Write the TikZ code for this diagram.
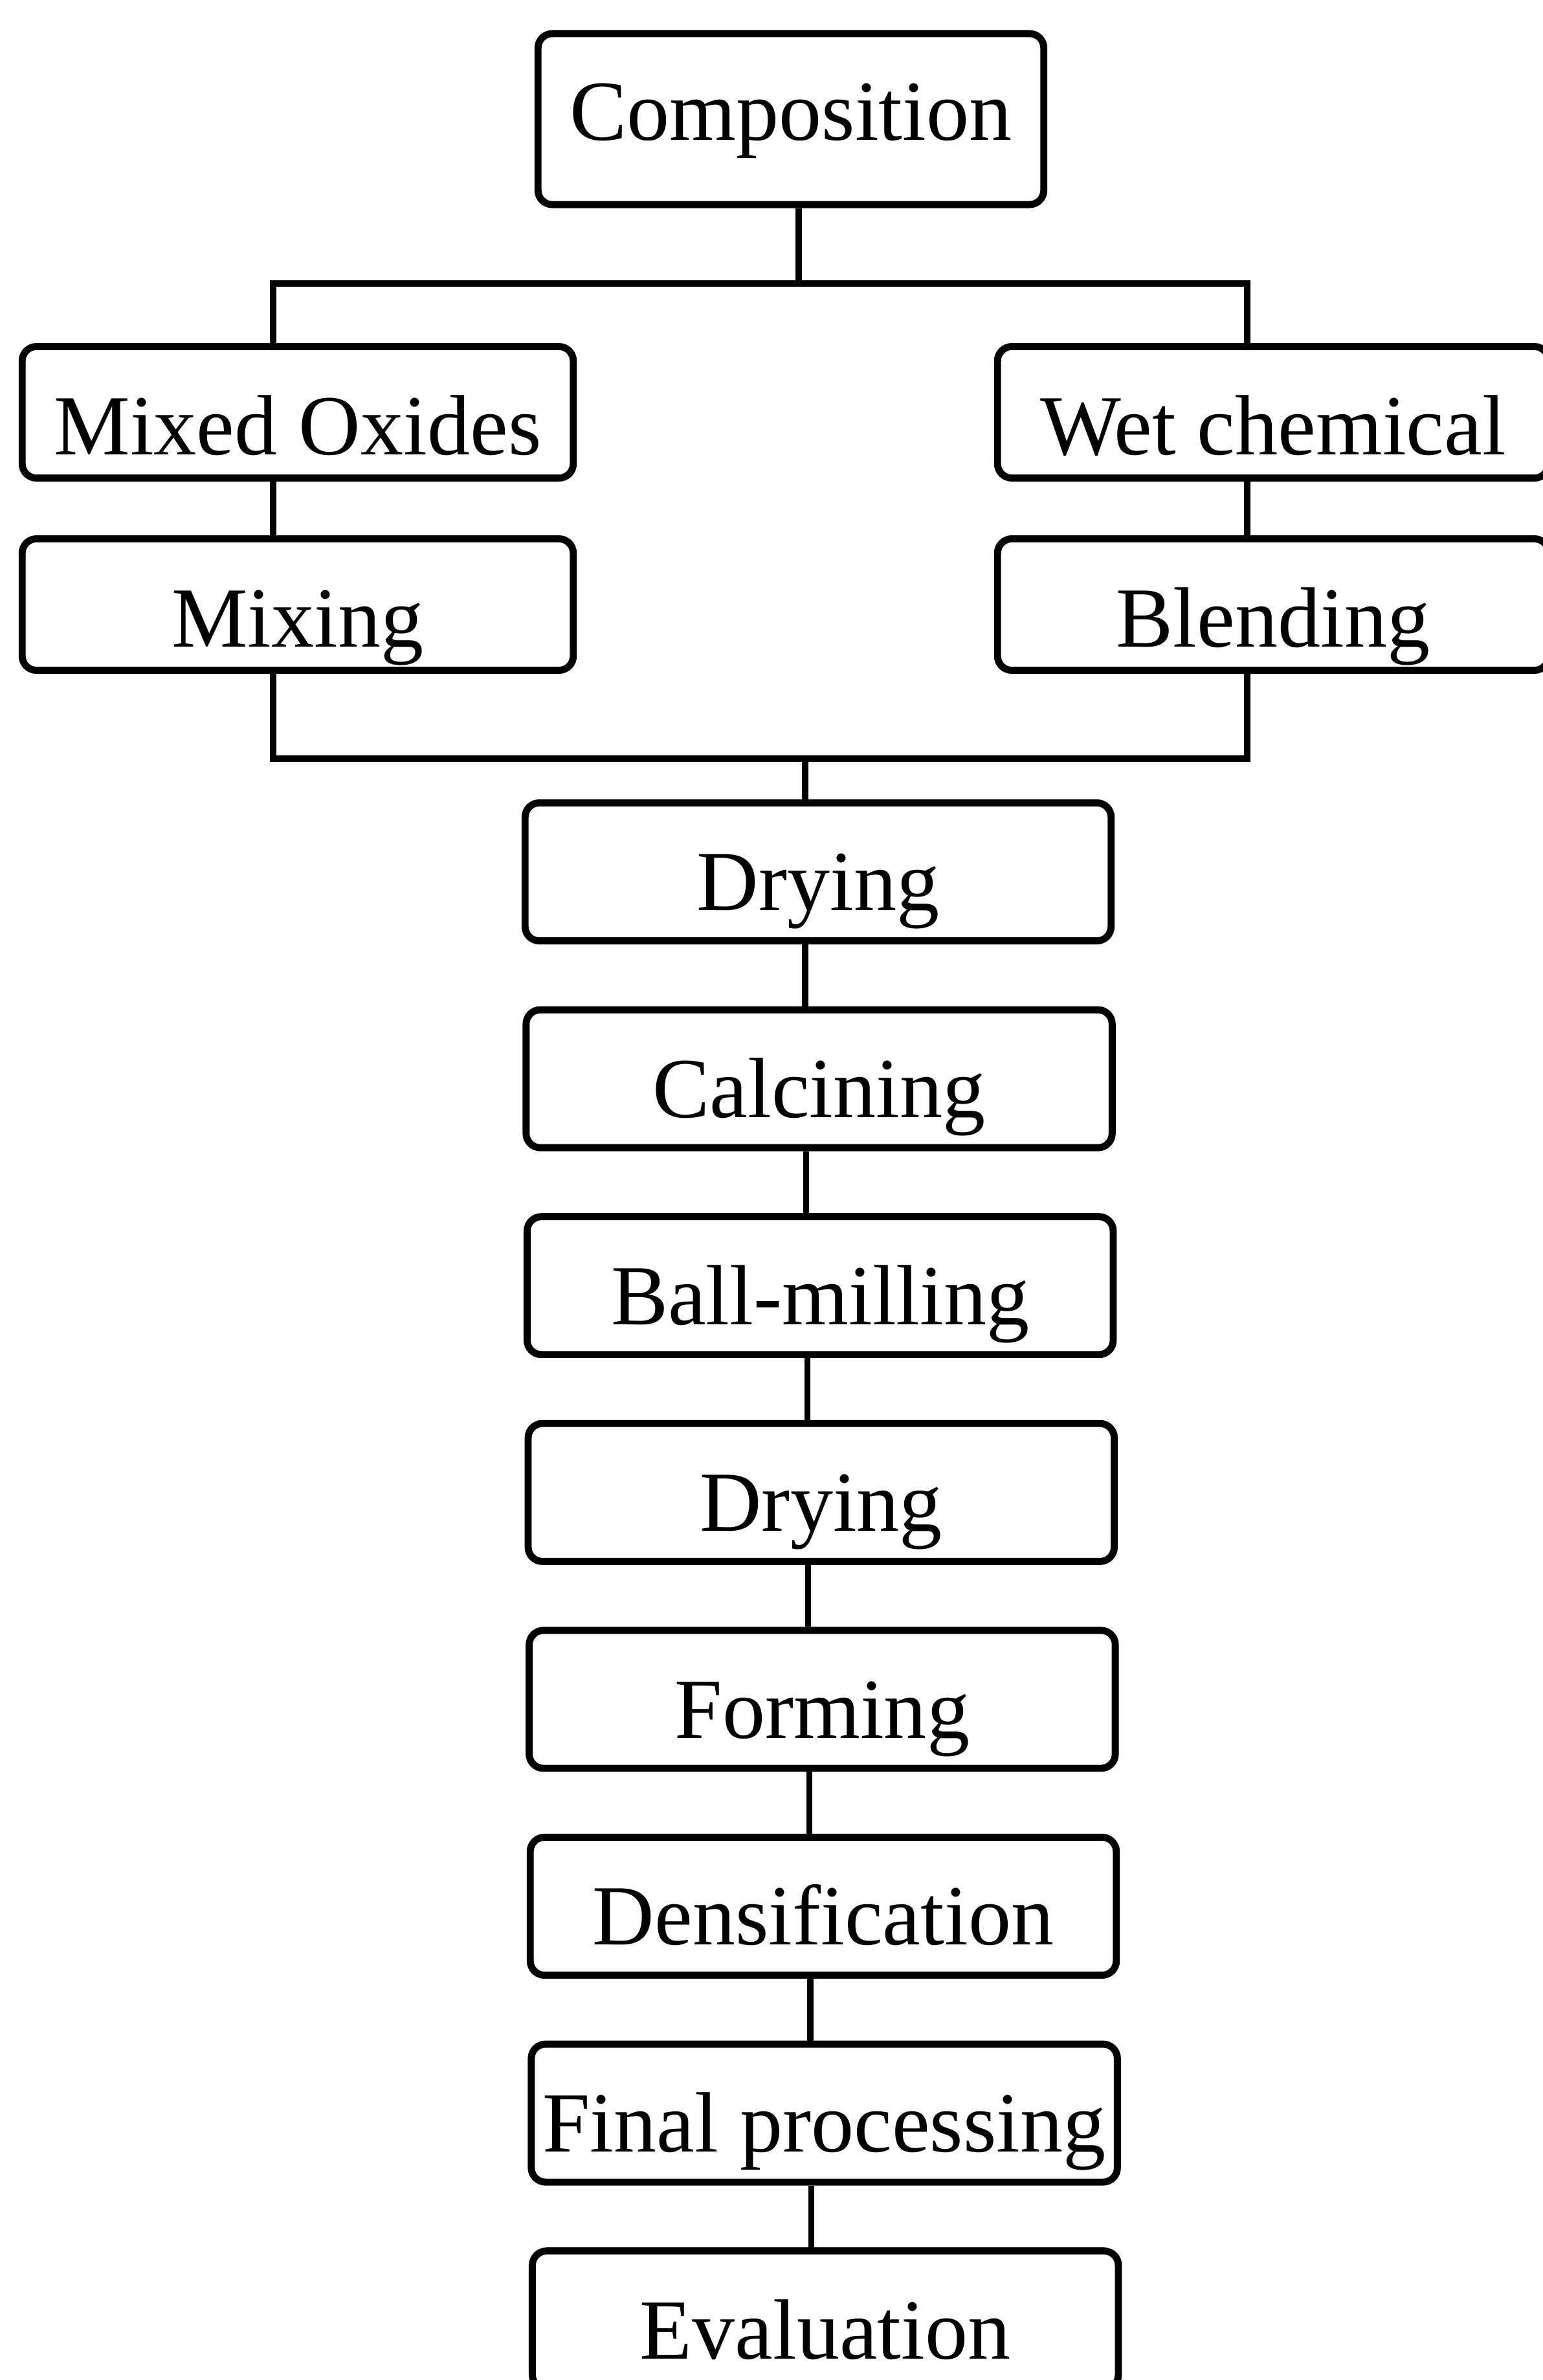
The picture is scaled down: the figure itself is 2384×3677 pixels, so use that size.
\documentclass[tikz,border=0pt]{standalone}
\usepackage{fontspec}
\setmainfont{Liberation Serif}
\usetikzlibrary{calc}

\tikzset{
  stepbox/.style={draw, line width=3.1pt, rounded corners=0.22cm, minimum width=9.05cm,
    minimum height=2.13cm, inner sep=0pt, text height=42pt, text depth=8pt,
    font=\fontsize{37.6}{45}\selectfont},
  routebox/.style={stepbox, minimum width=8.51cm, minimum height=2.03cm, text height=45pt},
  link/.style={line width=2.6pt}
}

\begin{document}
\begin{tikzpicture}[x=0.01cm, y=-0.01cm]
\useasboundingbox (0,0) rectangle (2384,3677);

\node[stepbox, minimum width=7.81cm, minimum height=2.64cm, text height=26.5pt] (comp) at (1222,184) {Composition};

%Routes
\node[routebox] (mixox)  at (460,637)  {Mixed Oxides};
\node[routebox] (wetch)  at (1967,637) {Wet chemical};
\node[routebox] (mixing) at (460,934)  {Mixing};
\node[routebox] (blend)  at (1967,934) {Blending};

\path (1234,438) coordinate (tm);
\path (422,438) coordinate (tl);
\path (1927,438) coordinate (tr);
\path (422,1172) coordinate (bl);
\path (1927,1172) coordinate (br);
\path (1244,1172) coordinate (bm);

%Split and join
\draw[link] (comp.south -| tm) -- (tm);
\draw[link] (mixox.north -| tl) -- (tl) -- (tr) -- (wetch.north -| tr);
\draw[link] (mixox.south -| tl) -- (mixing.north -| tl);
\draw[link] (wetch.south -| tr) -- (blend.north -| tr);
\draw[link] (mixing.south -| bl) -- (bl) -- (br) -- (blend.south -| br);

%Processing steps
\foreach \name/\txt [count=\i] in {dry1/Drying, calc/Calcining, ball/Ball-milling,
    dry2/Drying, form/Forming, dens/Densification, final/Final processing, eval/Evaluation}
  \node[stepbox] (\name) at ({1264+1.6*(\i-1)},{1347+319.6*(\i-1)}) {\txt};

\draw[link] (bm) -- (dry1.north -| bm);
\foreach \a/\b in {dry1/calc, calc/ball, ball/dry2, dry2/form, form/dens, dens/final, final/eval}
  \draw[link] ([xshift=-0.2cm]\a.south) -- ([xshift=-0.2cm]\a.south |- \b.north);

\end{tikzpicture}
\end{document}
